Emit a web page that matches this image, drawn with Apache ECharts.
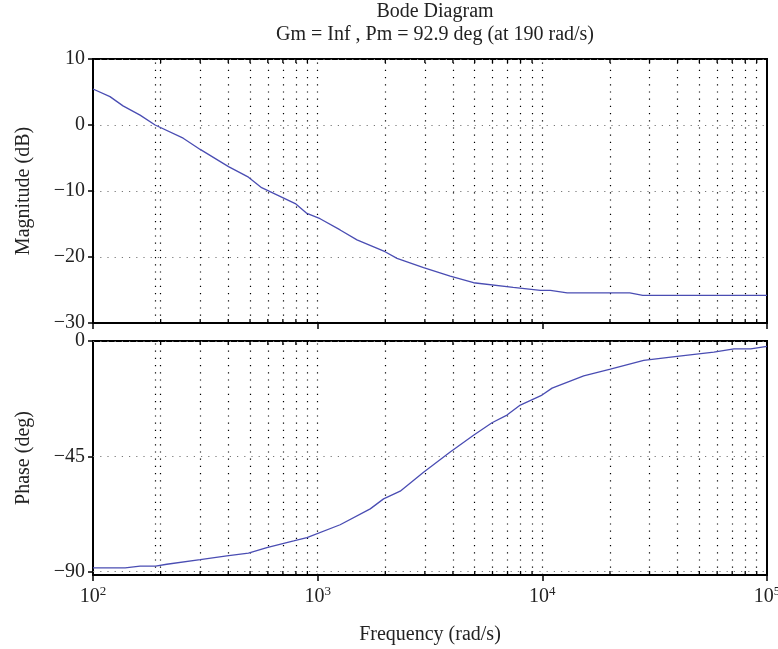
<!DOCTYPE html>
<html><head><meta charset="utf-8">
<script src="https://cdn.jsdelivr.net/npm/echarts@6/dist/echarts.min.js"></script>
<style>html,body{margin:0;padding:0;background:#fff}#c{width:778px;height:649px}</style>
</head><body><div id="c"></div>
<script>
const titleLines = ['Bode Diagram', 'Gm = Inf , Pm = 92.9 deg (at 190 rad/s)'];
const freqMag = [100,119,136,162,189,252,300,401,492,563,795,896,1025,1259,1496,1995,2255,2960,3890,4940,7420,9800,10860,12900,24500,28000,100000];
const magDb = [5.45,4.3,2.9,1.5,0.0,-2.0,-3.7,-6.3,-7.9,-9.5,-11.9,-13.4,-14.2,-15.9,-17.4,-19.2,-20.2,-21.6,-22.9,-23.9,-24.6,-25.05,-25.05,-25.45,-25.45,-25.8,-25.8];
const freqPh = [100,139,162,190,213,300,394,492,594,782,896,1259,1714,1965,2330,2960,3890,4940,5970,6960,7980,9970,11050,15280,20090,28260,39800,58000,71300,84600,100000];
const phaseDeg = [-88.5,-88.5,-87.8,-87.8,-87.1,-85.3,-83.8,-82.8,-80.6,-78.0,-76.7,-71.7,-65.5,-61.6,-58.6,-51.2,-43.3,-36.8,-31.9,-28.9,-25.0,-21.1,-18.4,-13.6,-11.0,-7.6,-6.0,-4.3,-3.1,-3.1,-2.1];
const magTicks = [10, 0, -10, -20, -30];
const phaseTicks = [0, -45, -90];
const decades = [100, 1000, 10000];
const minorMults = [2,3,4,5,6,7,8,9];
const pmFreq = 190;

const FONT = "'Liberation Serif','DejaVu Serif',serif";
const FS = 20;
const vGrid = [];
decades.forEach(d => { if (d > 100) vGrid.push(d); minorMults.forEach(m => vGrid.push(d*m)); });
vGrid.push(pmFreq);
const minorTicks = [];
decades.forEach(d => minorMults.forEach(m => minorTicks.push(d*m)));
const supMap = {100:'2',1000:'3',10000:'4',100000:'5'};

const chart = echarts.init(document.getElementById('c'));
const blue = '#4a4db3';
const txt = '#222';

function xAxisCfg(idx, showLabel) {
  return {
    type: 'log', logBase: 10, gridIndex: idx, min: 100, max: 100000,
    axisLine: {show: true, onZero: false, lineStyle: {color: '#000', width: 2}},
    axisTick: {show: true, inside: false, length: 6, lineStyle: {color: '#000', width: 1.5}},
    splitLine: {show: false},
    axisLabel: {show: showLabel, margin: 10, hideOverlap: false,
      formatter: v => '{n|10}{s|' + (supMap[Math.round(v)] || '') + '}',
      rich: {n: {fontFamily: FONT, fontSize: FS, color: txt},
             s: {fontFamily: FONT, fontSize: 13, color: txt, padding: [0,0,10,0]}}},
    name: showLabel ? 'Frequency (rad/s)' : '', nameLocation: 'middle', nameGap: 50,
    nameTextStyle: {fontFamily: FONT, fontSize: FS, color: txt}
  };
}

function tickSeries(idx) {
  return {
    type: 'custom', xAxisIndex: idx, yAxisIndex: idx, silent: true, z: 5,
    data: minorTicks.map(v => [v]),
    encode: {x: 0},
    renderItem: (params, api) => {
      const cs = params.coordSys;
      const x = api.coord([api.value(0), 0])[0];
      return {type: 'group', children: [
        {type: 'line', shape: {x1: x, y1: cs.y, x2: x, y2: cs.y + 4}, style: {stroke: '#000', lineWidth: 1.3}},
        {type: 'line', shape: {x1: x, y1: cs.y + cs.height, x2: x, y2: cs.y + cs.height - 4}, style: {stroke: '#000', lineWidth: 1.3}}
      ]};
    }
  };
}

const vLineStyle = {color: '#000', width: 1.2, type: [1.2, 6]};
const hLineStyle = {color: '#777', width: 1.2, type: [1.2, 6]};
const yFmt = v => (v < 0 ? '\u2212' + (-v) : '' + v);

chart.setOption({
  animation: false,
  title: [
    {text: titleLines[0], left: 430, textAlign: 'center', top: -3, textStyle: {fontFamily: FONT, fontSize: FS, fontWeight: 'normal', color: txt}},
    {text: titleLines[1], left: 430, textAlign: 'center', top: 20, textStyle: {fontFamily: FONT, fontSize: FS, fontWeight: 'normal', color: txt}}
  ],
  grid: [
    {left: 93, top: 59, width: 674, height: 264, show: true, borderColor: '#000', borderWidth: 2, containLabel: false, outerBoundsMode: 'none'},
    {left: 93, top: 341, width: 674, height: 234, show: true, borderColor: '#000', borderWidth: 2, containLabel: false, outerBoundsMode: 'none'}
  ],
  xAxis: [xAxisCfg(0, false), xAxisCfg(1, true)],
  yAxis: [
    {type: 'value', gridIndex: 0, min: -30, max: 10, interval: 10,
     axisLine: {show: true, lineStyle: {color: '#000', width: 2}},
     axisTick: {show: true, length: 5, lineStyle: {color: '#000', width: 1.5}},
     axisLabel: {fontFamily: FONT, fontSize: FS, color: txt, margin: 8, formatter: yFmt},
     splitLine: {show: true, lineStyle: hLineStyle},
     name: 'Magnitude (dB)', nameLocation: 'middle', nameGap: 59,
     nameTextStyle: {fontFamily: FONT, fontSize: FS, color: txt}},
    {type: 'value', gridIndex: 1, min: -91.3, max: 0,
     axisLine: {show: true, lineStyle: {color: '#000', width: 2}},
     axisTick: {show: true, length: 5, customValues: phaseTicks, lineStyle: {color: '#000', width: 1.5}},
     axisLabel: {fontFamily: FONT, fontSize: FS, color: txt, margin: 8, customValues: phaseTicks, formatter: yFmt},
     splitLine: {show: false},
     name: 'Phase (deg)', nameLocation: 'middle', nameGap: 59,
     nameTextStyle: {fontFamily: FONT, fontSize: FS, color: txt}}
  ],
  series: [
    {type: 'line', xAxisIndex: 0, yAxisIndex: 0, showSymbol: false, symbol: 'none', z: 10,
     lineStyle: {color: blue, width: 1.3},
     data: freqMag.map((f, i) => [f, magDb[i]]),
     markLine: {silent: true, symbol: 'none', label: {show: false}, lineStyle: vLineStyle,
       data: vGrid.map(v => ({xAxis: v}))}},
    {type: 'line', xAxisIndex: 1, yAxisIndex: 1, showSymbol: false, symbol: 'none', z: 10,
     lineStyle: {color: blue, width: 1.3},
     data: freqPh.map((f, i) => [f, phaseDeg[i]]),
     markLine: {silent: true, symbol: 'none', label: {show: false}, lineStyle: vLineStyle,
       data: vGrid.map(v => ({xAxis: v})).concat(phaseTicks.map(v => ({yAxis: v, lineStyle: hLineStyle})))}},
    tickSeries(0),
    tickSeries(1)
  ]
});
</script>
</body></html>
